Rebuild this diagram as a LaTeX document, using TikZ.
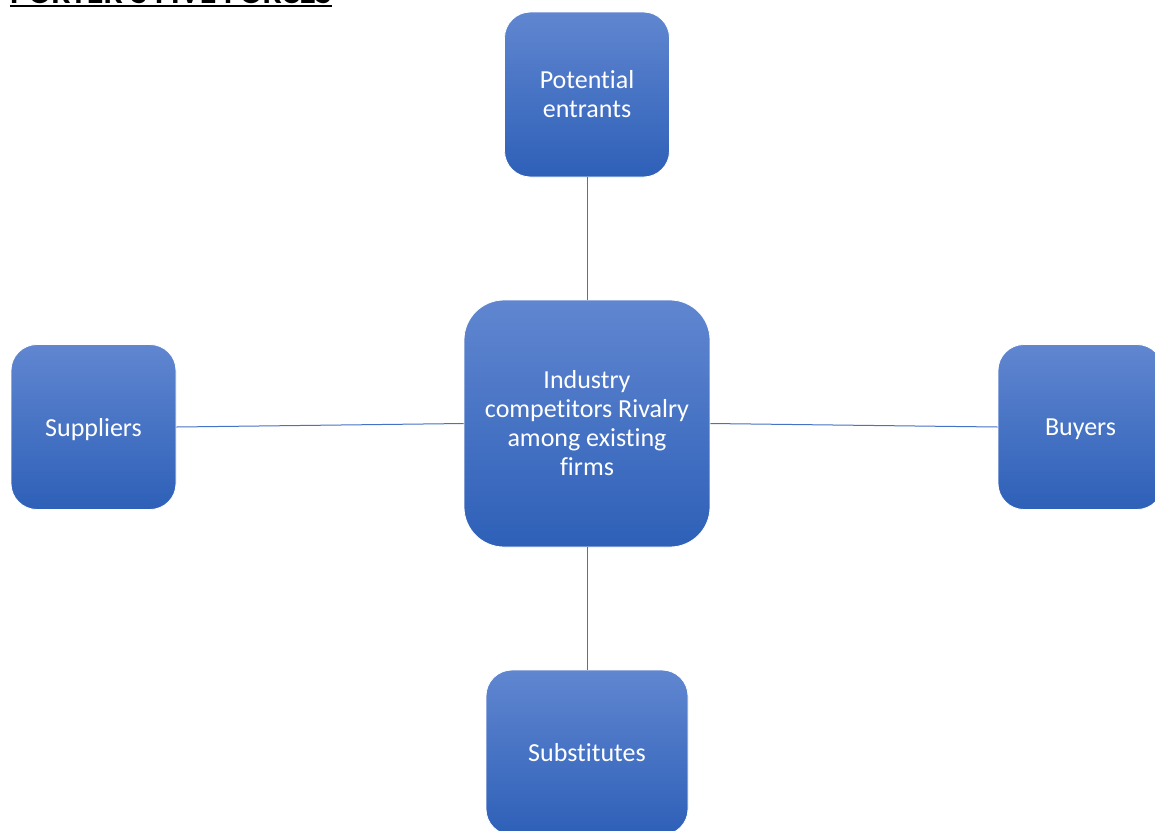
\documentclass[tikz,border=0pt]{standalone}
\usepackage{fontspec}
\setmainfont{Carlito}[Ligatures={NoCommon}]
\definecolor{topblue}{HTML}{6086D0}
\definecolor{botblue}{HTML}{2E60B8}
\definecolor{linkblue}{HTML}{4472C4}
\begin{document}
\begin{tikzpicture}[x=1pt,y=-1pt,
  forcebox/.style={draw=white, line width=0.8pt, rounded corners=26pt,
    top color=topblue, bottom color=botblue, text=white, inner sep=0pt,
    font=\fontsize{26}{29}\selectfont, align=center},
  link/.style={draw=linkblue, line width=1pt}]
\useasboundingbox (0,0) rectangle (1155,830);
\clip (0,0) rectangle (1155,830);
% title (cut off by the top edge, as in the reference)
\node[anchor=base west, inner sep=0pt, font=\bfseries\fontsize{34}{38}\selectfont] (title) at (10,3) {PORTER'S FIVE FORCES};
\draw[line width=2pt] ([yshift=-3pt]title.base west) -- ([yshift=-3pt]title.base east);
% boxes
\node[forcebox, minimum width=165pt, minimum height=165pt] (entrants) at (587,94.5) {Potential\\entrants};
\node[forcebox, minimum width=246pt, minimum height=247pt, rounded corners=40pt] (rivalry) at (587,423.5) {Industry\\competitors Rivalry\\among existing\\firms};
\node[forcebox, minimum width=165pt, minimum height=165pt, text depth=0pt] (suppliers) at (93.5,427) {Suppliers};
\node[forcebox, minimum width=165pt, minimum height=165pt, text depth=0pt] (buyers) at (1080.5,427) {Buyers};
\node[forcebox, minimum width=202pt, minimum height=165pt] (substitutes) at (587,752.5) {Substitutes};
% connectors
\draw[link] (entrants) -- (rivalry);
\draw[link] (rivalry) -- (substitutes);
\draw[link] (suppliers.east) -- (rivalry.west);
\draw[link] (rivalry.east) -- (buyers.west);
\end{tikzpicture}
\end{document}
